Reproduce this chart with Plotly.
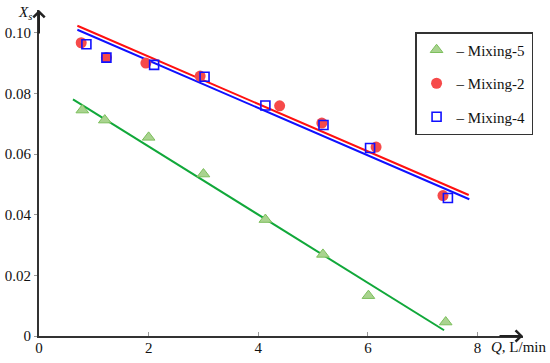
import plotly.graph_objects as go

# Data
q_mix5 = [0.79, 1.20, 2.00, 3.00, 4.13, 5.18, 6.01, 7.42]
xs_mix5 = [0.0745, 0.0712, 0.0655, 0.0534, 0.0384, 0.0269, 0.0133, 0.0046]

q_mix2 = [0.77, 1.23, 1.95, 2.94, 4.39, 5.16, 6.15, 7.37]
xs_mix2 = [0.0967, 0.0918, 0.0900, 0.0857, 0.0759, 0.0702, 0.0623, 0.0463]

q_mix4 = [0.865, 1.23, 2.10, 3.02, 4.13, 5.19, 6.04, 7.46]
xs_mix4 = [0.0962, 0.0918, 0.0894, 0.0855, 0.0760, 0.0696, 0.0620, 0.0455]

# Fitted trend lines (end points)
fit5_q = [0.62, 7.39]
fit5_xs = [0.0780, 0.0019]
fit2_q = [0.70, 7.84]
fit2_xs = [0.1023, 0.0465]
fit4_q = [0.70, 7.85]
fit4_xs = [0.1010, 0.0451]

x_ticks = [0, 2, 4, 6, 8]
x_tick_text = ["0", "2", "4", "6", "8"]
y_ticks = [0, 0.02, 0.04, 0.06, 0.08, 0.10]
y_tick_text = ["0", "0.02", "0.04", "0.06", "0.08", "0.10"]

X_MAX = 8.83
Y_MAX = 0.1075

FONT = "Liberation Serif"

fig = go.Figure()

# fit lines
fig.add_trace(go.Scatter(x=fit5_q, y=fit5_xs, mode="lines",
                         line=dict(color="#11a83a", width=2), showlegend=False))
fig.add_trace(go.Scatter(x=fit2_q, y=fit2_xs, mode="lines",
                         line=dict(color="#ff1010", width=2), showlegend=False))
fig.add_trace(go.Scatter(x=fit4_q, y=fit4_xs, mode="lines",
                         line=dict(color="#1010ff", width=2), showlegend=False))

# markers
fig.add_trace(go.Scatter(x=q_mix5, y=xs_mix5, mode="markers", name="– Mixing-5",
                         legendgroup="a",
                         marker=dict(symbol="triangle-up", size=11, color="#a9d38f",
                                     line=dict(color="#7cbf5c", width=1))))
fig.add_trace(go.Scatter(x=q_mix2, y=xs_mix2, mode="markers", name="– Mixing-2",
                         legendgroup="b",
                         marker=dict(symbol="circle", size=11, color="#f64a4a",
                                     line=dict(width=0))))
fig.add_trace(go.Scatter(x=q_mix4, y=xs_mix4, mode="markers", name="– Mixing-4",
                         legendgroup="c",
                         marker=dict(symbol="square-open", size=9, color="#1010ff",
                                     line=dict(color="#1010ff", width=1.6))))

axis_common = dict(showgrid=False, zeroline=False, showline=True, automargin=False,
                   linecolor="#333333", linewidth=2,
                   tickcolor="#999999", tickwidth=1,
                   tickfont=dict(family=FONT, size=15, color="#111111"))

fig.update_xaxes(range=[0, X_MAX], tickvals=x_ticks, ticktext=x_tick_text,
                 ticks="inside", ticklen=4, ticklabelstandoff=-3, **axis_common)
fig.update_yaxes(range=[0, Y_MAX], tickvals=y_ticks, ticktext=y_tick_text,
                 ticks="outside", ticklen=3, **axis_common)

annotations = [
    # axis arrows
    dict(x=X_MAX, y=0, xref="x", yref="y", ax=-25, ay=0, showarrow=True,
         arrowhead=4, arrowsize=1.1, arrowwidth=2, arrowcolor="#222222", text=""),
    dict(x=0, y=Y_MAX, xref="x", yref="y", ax=0, ay=25, showarrow=True,
         arrowhead=4, arrowsize=1.1, arrowwidth=2, arrowcolor="#222222", text=""),
    # axis titles
    dict(x=0, y=Y_MAX, xref="x", yref="y", xanchor="right", yanchor="middle",
         xshift=-5, yshift=-3, showarrow=False,
         text="<i>X<sub>s</sub></i>", font=dict(family=FONT, size=15, color="#111111")),
    dict(x=X_MAX, y=0, xref="x", yref="y", xanchor="right", yanchor="top",
         xshift=26, yshift=-1, showarrow=False,
         text="<i>Q</i>, L/min", font=dict(family=FONT, size=15, color="#111111")),
]

fig.update_layout(
    width=550, height=363,
    margin=dict(l=39, r=27, t=10, b=27),
    plot_bgcolor="white", paper_bgcolor="white",
    font=dict(family=FONT, size=15, color="#111111"),
    annotations=annotations,
    legend=dict(x=0.777, y=0.9325, xanchor="left", yanchor="top",
                bordercolor="#333333", borderwidth=1.5, bgcolor="white",
                font=dict(family=FONT, size=15, color="#111111"),
                tracegroupgap=11, traceorder="grouped", itemwidth=30),
)

fig.write_html("out.html",
               config={"displayModeBar": False},
               post_script="document.body.style.margin='0';document.body.style.overflow='hidden';")
